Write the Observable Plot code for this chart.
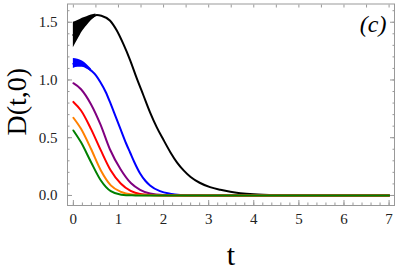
<!DOCTYPE html>
<html>
<head>
<meta charset="utf-8">
<script src="https://cdn.jsdelivr.net/npm/d3@7"></script>
<script src="https://cdn.jsdelivr.net/npm/@observablehq/plot@0.6"></script>
<style>
  html, body { margin: 0; padding: 0; background: white; }
  svg text { font-family: "Liberation Serif", "DejaVu Serif", serif; }
</style>
</head>
<body>
<div id="chart"></div>
<script>
// [t, D(t,0)] samples
const blackBand = [[0,1.28,1.50],[0.1,1.35,1.515],[0.2,1.42,1.535],[0.3,1.47,1.548],[0.4,1.515,1.563],[0.5,1.548,1.572]];
const black = [[0,1.39],[0.1,1.43],[0.2,1.48],[0.3,1.51],[0.4,1.54],[0.52,1.562],[0.62,1.556],[0.81,1.515],[0.96,1.43],[1.11,1.31],[1.26,1.17],[1.40,1.02],[1.55,0.87],[1.70,0.72],[1.85,0.59],[2.0,0.48],[2.15,0.375],[2.3,0.285],[2.45,0.215],[2.6,0.16],[2.8,0.11],[3.03,0.072],[3.26,0.049],[3.48,0.032],[3.7,0.02],[4.0,0.01],[4.5,0.003],[5,0.001],[6,0],[7,0]];
const blueBand = [[0,1.10,1.185],[0.1,1.11,1.18],[0.2,1.11,1.165],[0.3,1.095,1.135],[0.4,1.07,1.095]];
const blue = [[0,1.14],[0.15,1.14],[0.28,1.115],[0.4,1.08],[0.5,1.04],[0.6,0.98],[0.72,0.894],[0.83,0.79],[0.94,0.68],[1.05,0.57],[1.17,0.45],[1.26,0.37],[1.35,0.29],[1.48,0.19],[1.6,0.125],[1.7,0.087],[1.92,0.037],[2.14,0.015],[2.37,0.005],[2.8,0.001],[3.5,0],[7,0]];
const purple = [[0,0.972],[0.17,0.92],[0.39,0.79],[0.6,0.615],[0.81,0.40],[1.05,0.225],[1.28,0.105],[1.48,0.049],[1.7,0.017],[2.0,0.004],[2.5,0.0005],[3,0],[7,0]];
const red = [[0,0.81],[0.17,0.736],[0.39,0.577],[0.61,0.39],[0.83,0.216],[1.05,0.103],[1.27,0.039],[1.48,0.012],[1.8,0.002],[2.2,0],[7,0]];
const orange = [[0,0.673],[0.17,0.577],[0.39,0.404],[0.61,0.216],[0.83,0.087],[1.06,0.03],[1.3,0.008],[1.6,0.001],[2,0],[7,0]];
const green = [[0,0.563],[0.17,0.46],[0.39,0.29],[0.61,0.13],[0.83,0.037],[1.06,0.007],[1.3,0.001],[1.6,0],[7,0]];

const xTicks = [0,1,2,3,4,5,6,7];
const yTicks = [0,0.5,1,1.5];
const xMinor = d3.range(0, 7.01, 0.2);
const xTop = d3.range(0, 7.01, 0.5);
const yMinor = d3.range(0, 1.651, 0.1);

const font = "Liberation Serif";
const tc = "#999";
const px = d => d[0], py = d => d[1];
const line = (data, color) => Plot.line(data, {x: px, y: py, stroke: color, strokeWidth: 2, curve: "monotone-x"});
const band = (data, color) => Plot.areaY(data, {x: px, y1: d => d[1], y2: d => d[2], fill: color, curve: "monotone-x"});

const chart = Plot.plot({
  width: 399,
  height: 271,
  marginLeft: 67,
  marginRight: 5,
  marginTop: 3.5,
  marginBottom: 66,
  style: {fontFamily: font, background: "white", color: "black"},
  x: {domain: [-0.13, 7.12]},
  y: {domain: [-0.087, 1.658]},
  marks: [
    // inward ticks on all four sides
    Plot.axisX(xTicks, {anchor: "bottom", tickSize: -5, text: null, stroke: tc, label: null}),
    Plot.axisX(xMinor, {anchor: "bottom", tickSize: -2.5, text: null, stroke: tc, label: null}),
    Plot.axisX(xTop, {anchor: "top", tickSize: -3, text: null, stroke: tc, label: null}),
    Plot.axisY(yTicks, {anchor: "left", tickSize: -5, text: null, stroke: tc, label: null}),
    Plot.axisY(yMinor, {anchor: "left", tickSize: -2.5, text: null, stroke: tc, label: null}),
    Plot.axisY(yTicks, {anchor: "right", tickSize: -5, text: null, stroke: tc, label: null}),
    Plot.axisY(yMinor, {anchor: "right", tickSize: -2.5, text: null, stroke: tc, label: null}),
    // tick labels
    Plot.axisX(xTicks, {anchor: "bottom", tickSize: 0, tickPadding: 8, fontSize: 15, fontFamily: font, tickFormat: d => String(d), label: null, fill: "#222"}),
    Plot.axisY(yTicks, {anchor: "left", tickSize: 0, tickPadding: 10, fontSize: 15, fontFamily: font, tickFormat: d3.format(".1f"), label: null, fill: "#222"}),
    Plot.frame({stroke: tc}),
    band(blackBand, "black"),
    line(black, "black"),
    band(blueBand, "#0000ff"),
    line(blue, "#0000ff"),
    line(purple, "#800080"),
    line(red, "#ff0000"),
    line(orange, "#ff8000"),
    line(green, "#008000"),
    Plot.text(["(c)"], {frameAnchor: "top-right", dx: -8, dy: 11, lineAnchor: "top", textAnchor: "end", fontSize: 24, fontStyle: "italic", fontFamily: font}),
    Plot.text(["D(t,0)"], {frameAnchor: "left", dx: -50, dy: -3, rotate: -90, fontSize: 28, textAnchor: "middle", fontFamily: font}),
    Plot.text(["t"], {frameAnchor: "bottom", dy: 50, lineAnchor: "middle", fontSize: 30, fontFamily: font})
  ]
});
document.getElementById("chart").appendChild(chart);
</script>
</body>
</html>
